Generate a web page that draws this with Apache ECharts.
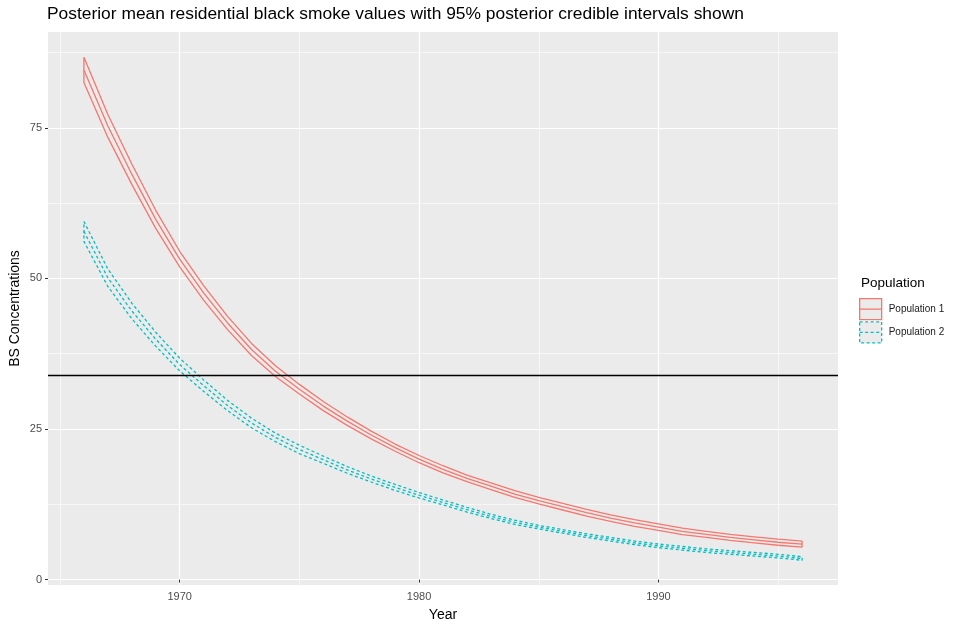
<!DOCTYPE html>
<html>
<head>
<meta charset="utf-8">
<script src="https://cdn.jsdelivr.net/npm/echarts@6.0.0/dist/echarts.min.js"></script>
<style>
html,body{margin:0;padding:0;background:#fff;}
#chart{width:957px;height:622px;}
</style>
</head>
<body>
<div id="chart"></div>
<script>
// ---- data ----
const years = [1966,1967,1968,1969,1970,1971,1972,1973,1974,1975,1976,1977,1978,1979,1980,1981,1982,1983,1984,1985,1986,1987,1988,1989,1990,1991,1992,1993,1994,1995,1996];

const pop1Mean  = [84.6,75.3,67.3,59.8,53.2,47.6,42.6,38.2,34.6,31.6,28.8,26.3,24.0,21.9,20.0,18.3,16.8,15.5,14.2,13.1,12.1,11.1,10.2,9.4,8.7,8.0,7.5,7.0,6.6,6.2,5.9];
const pop1Upper = [86.7,77.2,69.0,61.3,54.5,48.8,43.7,39.2,35.5,32.4,29.55,27.0,24.65,22.5,20.6,18.9,17.35,16.05,14.75,13.65,12.65,11.65,10.75,9.95,9.25,8.55,8.0,7.5,7.1,6.7,6.4];
const pop1Lower = [82.5,73.4,65.6,58.3,51.9,46.4,41.5,37.2,33.7,30.8,28.05,25.6,23.35,21.3,19.4,17.7,16.25,14.95,13.65,12.55,11.55,10.55,9.65,8.85,8.15,7.45,7.0,6.5,6.1,5.7,5.4];

const pop2Mean  = [57.8,50.1,44.6,39.9,35.7,32.2,28.9,26.0,23.6,21.6,19.9,18.2,16.7,15.3,14.0,12.8,11.6,10.5,9.5,8.7,8.0,7.3,6.7,6.1,5.6,5.2,4.8,4.5,4.2,3.9,3.5];
const pop2Upper = [59.45,51.55,45.9,41.05,36.75,33.15,29.75,26.8,24.3,22.3,20.5,18.75,17.2,15.8,14.45,13.2,12.0,10.85,9.85,9.0,8.3,7.6,7.0,6.4,5.9,5.5,5.1,4.8,4.5,4.2,3.8];
const pop2Lower = [56.15,48.65,43.3,38.75,34.65,31.25,28.05,25.2,22.9,20.9,19.3,17.65,16.2,14.8,13.55,12.4,11.2,10.15,9.15,8.4,7.7,7.0,6.4,5.8,5.3,4.9,4.5,4.2,3.9,3.6,3.2];

const referenceLevel = 34;

const xMajorTicks = [1970,1980,1990];
const xMinorTicks = [1965,1975,1985,1995];
const yMajorTicks = [0,25,50,75];
const yMinorTicks = [12.5,37.5,62.5,87.5];

const seriesNames = ['Population 1','Population 2'];
const titleText = 'Posterior mean residential black smoke values with 95% posterior credible intervals shown';

// ---- helpers ----
function pairs(xs, ys){ return xs.map((x,i)=>[x, ys[i]]); }
function ribbonOutline(xs, up, lo){
  const pts = xs.map((x,i)=>[x, up[i]]);
  for (let i = xs.length-1; i >= 0; i--) pts.push([xs[i], lo[i]]);
  pts.push([xs[0], up[0]]);
  return pts;
}

const RED = '#F8766D', CYAN = '#00BFC4';
const FONT = '"Liberation Sans", Arial, Helvetica, sans-serif';
const DASH = [3, 2.5];
const LW = 1.3;
const keyIcon = 'path://M0,0L22,0L22,21L0,21ZM0,10.5L22,10.5';
const plain = v => String(v);

const chart = echarts.init(document.getElementById('chart'), null, {renderer:'canvas'});

const option = {
  animation: false,
  backgroundColor: '#FFFFFF',
  textStyle: {fontFamily: FONT},
  title: [
    {text: titleText, left: 47, top: 6, padding: 0,
     textStyle: {fontFamily: FONT, fontSize: 17.4, fontWeight: 'normal', color: '#000000'}},
    {text: 'Population', left: 861, top: 276, padding: 0,
     textStyle: {fontFamily: FONT, fontSize: 13.5, fontWeight: 'normal', color: '#000000'}}
  ],
  grid: {left: 48, right: 119, top: 32, bottom: 37, show: true,
         backgroundColor: '#EBEBEB', borderWidth: 0, containLabel: false, outerBoundsMode: 'none'},
  legend: {
    orient: 'vertical', left: 859, top: 298, padding: 0,
    itemWidth: 22, itemHeight: 21, itemGap: 1,
    selectedMode: false,
    textStyle: {fontFamily: FONT, fontSize: 10, color: '#1A1A1A', padding: [0,0,0,2]},
    data: [
      {name: seriesNames[0], icon: keyIcon,
       itemStyle: {color: '#EBEBEB', borderColor: RED, borderWidth: LW}},
      {name: seriesNames[1], icon: keyIcon,
       itemStyle: {color: '#EBEBEB', borderColor: CYAN, borderWidth: LW, borderType: DASH}}
    ]
  },
  xAxis: [
    {type: 'value', min: 1964.5, max: 1997.5, position: 'bottom',
     name: 'Year', nameLocation: 'middle', nameGap: 23, nameMoveOverlap: false,
     nameTextStyle: {fontFamily: FONT, fontSize: 14, color: '#000000'},
     axisLine: {show: false},
     axisTick: {show: true, length: 3, customValues: xMajorTicks, lineStyle: {color: '#333333', width: 1}},
     axisLabel: {show: true, customValues: xMajorTicks, formatter: plain, margin: 6, fontFamily: FONT, fontSize: 11, color: '#4D4D4D'},
     splitLine: {show: true, lineStyle: {color: '#FFFFFF', width: 1.2}}
    },
    {type: 'value', min: 1964.5, max: 1997.5, position: 'bottom', offset: 0,
     axisLine: {show: false},
     axisTick: {show: false, customValues: xMinorTicks},
     axisLabel: {show: false, customValues: xMinorTicks},
     splitLine: {show: true, lineStyle: {color: '#FFFFFF', width: 0.6}}
    }
  ],
  yAxis: [
    {type: 'value', min: -0.9, max: 90.9, position: 'left',
     name: 'BS Concentrations', nameLocation: 'middle', nameGap: 26, nameMoveOverlap: false,
     nameTextStyle: {fontFamily: FONT, fontSize: 14, color: '#000000'},
     axisLine: {show: false},
     axisTick: {show: true, length: 3, customValues: yMajorTicks, lineStyle: {color: '#333333', width: 1}},
     axisLabel: {show: true, customValues: yMajorTicks, formatter: plain, margin: 6, fontFamily: FONT, fontSize: 11, color: '#4D4D4D'},
     splitLine: {show: true, lineStyle: {color: '#FFFFFF', width: 1.2}}
    },
    {type: 'value', min: -0.9, max: 90.9, position: 'left', offset: 0,
     axisLine: {show: false},
     axisTick: {show: false, customValues: yMinorTicks},
     axisLabel: {show: false, customValues: yMinorTicks},
     splitLine: {show: true, lineStyle: {color: '#FFFFFF', width: 0.6}}
    }
  ],
  series: [
    {name: seriesNames[0], type: 'line', xAxisIndex: 0, yAxisIndex: 0, showSymbol: false, symbol: 'none',
     data: ribbonOutline(years, pop1Upper, pop1Lower),
     lineStyle: {color: RED, width: LW}, itemStyle: {color: RED}, silent: true},
    {name: seriesNames[0], type: 'line', xAxisIndex: 0, yAxisIndex: 0, showSymbol: false, symbol: 'none',
     data: pairs(years, pop1Mean),
     lineStyle: {color: RED, width: LW}, itemStyle: {color: RED}, silent: true},
    {name: seriesNames[1], type: 'line', xAxisIndex: 0, yAxisIndex: 0, showSymbol: false, symbol: 'none',
     data: ribbonOutline(years, pop2Upper, pop2Lower),
     lineStyle: {color: CYAN, width: LW, type: DASH}, itemStyle: {color: CYAN}, silent: true},
    {name: seriesNames[1], type: 'line', xAxisIndex: 0, yAxisIndex: 0, showSymbol: false, symbol: 'none',
     data: pairs(years, pop2Mean),
     lineStyle: {color: CYAN, width: LW, type: DASH}, itemStyle: {color: CYAN}, silent: true,
     markLine: {silent: true, symbol: 'none', label: {show: false},
       lineStyle: {color: '#000000', width: 1.3, type: 'solid'},
       data: [{yAxis: referenceLevel}]}}
  ]
};
chart.setOption(option);
</script>
</body>
</html>
